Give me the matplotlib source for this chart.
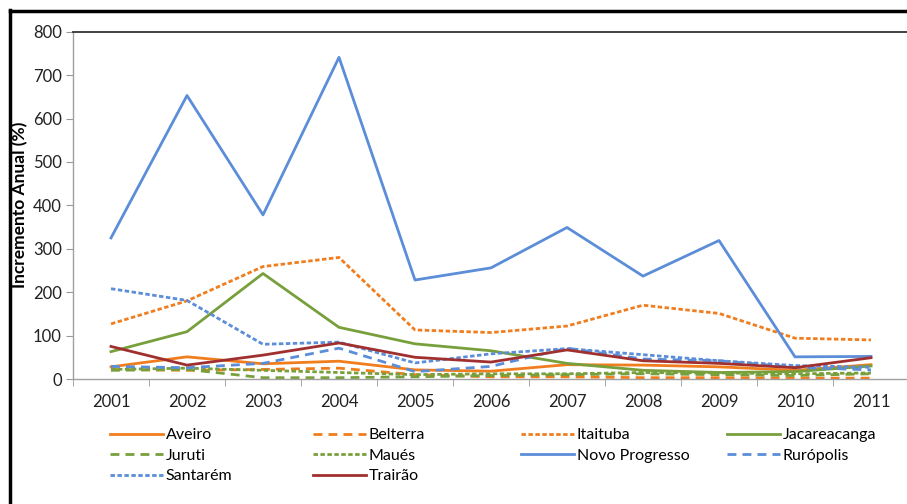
import matplotlib.pyplot as plt
from matplotlib.lines import Line2D

# anos e incremento anual (%) por município
anos = ["2001", "2002", "2003", "2004", "2005", "2006", "2007", "2008", "2009", "2010", "2011"]

aveiro = [28, 51, 35, 41, 21, 18, 33, 32, 28, 20, 33]
belterra = [22, 20, 22, 25, 10, 5, 5, 3, 3, 2, 2]
itaituba = [127, 180, 259, 280, 113, 107, 122, 170, 151, 94, 90]
jacareacanga = [63, 109, 243, 119, 81, 65, 36, 20, 15, 17, 30]
juruti = [20, 22, 3, 3, 5, 8, 10, 12, 10, 8, 12]
maues = [22, 25, 20, 15, 10, 12, 12, 15, 14, 12, 14]
novo_progresso = [325, 653, 378, 741, 228, 256, 349, 237, 319, 51, 52]
ruropolis = [29, 26, 36, 71, 17, 29, 71, 46, 42, 27, 21]
santarem = [208, 181, 80, 85, 37, 58, 70, 56, 42, 31, 27]
trairao = [75, 32, 55, 83, 50, 39, 67, 42, 36, 26, 49]

laranja = "#F07D1E"
verde = "#77A03C"
azul = "#5B8DD8"
vinho = "#A0302F"

longo = (0, (3.2, 2.2))
curto = (0, (1.6, 0.9))

series = [
    ("Aveiro", aveiro, laranja, "-"),
    ("Belterra", belterra, laranja, longo),
    ("Itaituba", itaituba, laranja, curto),
    ("Jacareacanga", jacareacanga, verde, "-"),
    ("Juruti", juruti, verde, longo),
    ("Maués", maues, verde, curto),
    ("Novo Progresso", novo_progresso, azul, "-"),
    ("Rurópolis", ruropolis, azul, longo),
    ("Santarém", santarem, azul, curto),
    ("Trairão", trairao, vinho, "-"),
]

plt.rcParams["font.family"] = ["Lato", "DejaVu Sans"]

fig = plt.figure(figsize=(9.07, 5.04), dpi=100)
ax = fig.add_axes([73 / 907, 125 / 504, 836 / 907, 347.3 / 504])

x = list(range(len(anos)))
handles = []
for nome, valores, cor, estilo in series:
    linha, = ax.plot(x, valores, color=cor, linestyle=estilo, linewidth=2.0, label=nome)
    handles.append(linha)

ax.set_xlim(-0.5, len(anos) - 0.5)
ax.set_ylim(0, 800)
ax.set_yticks(range(0, 801, 100))
ax.set_xticks(x)
ax.set_xticklabels(anos)
# marcas do eixo x entre as categorias
ax.set_xticks([i + 0.5 for i in range(-1, len(anos))], minor=True)
ax.tick_params(axis="x", which="major", length=0, pad=11, labelsize=12, colors="#222222")
ax.tick_params(axis="x", which="minor", length=5, color="#999999")
ax.tick_params(axis="y", length=5, color="#999999", labelsize=12, labelcolor="#222222", pad=3)

for lado in ["left", "bottom", "right"]:
    ax.spines[lado].set_color("#a0a0a0")
    ax.spines[lado].set_linewidth(1.0)
ax.spines["top"].set_color("#333333")
ax.spines["top"].set_linewidth(1.3)

fig.text(20 / 907, 1 - 205 / 504, "Incremento Anual (%)", rotation=90, fontsize=12.5,
         fontweight="bold", ha="center", va="center")

# legenda em quatro colunas, preenchida por linhas
colunas_x = [110, 313, 521, 727]
for c, x0 in enumerate(colunas_x):
    idx = list(range(c, len(series), 4))
    leg = fig.legend([handles[i] for i in idx], [series[i][0] for i in idx],
                     loc="upper left", bbox_to_anchor=(x0 / 907, 1 - 428 / 504),
                     frameon=False, fontsize=11.5, handlelength=3.3, handletextpad=0.2,
                     labelspacing=0.4, borderaxespad=0, borderpad=0)

# moldura externa (topo e esquerda)
fig.add_artist(Line2D([9.5 / 907, 9.5 / 907], [0, 1 - 10 / 504], color="black", linewidth=2.5))
fig.add_artist(Line2D([9.5 / 907, 1], [1 - 11 / 504, 1 - 11 / 504], color="black", linewidth=2.5))

fig.savefig("out.png", dpi=100)
